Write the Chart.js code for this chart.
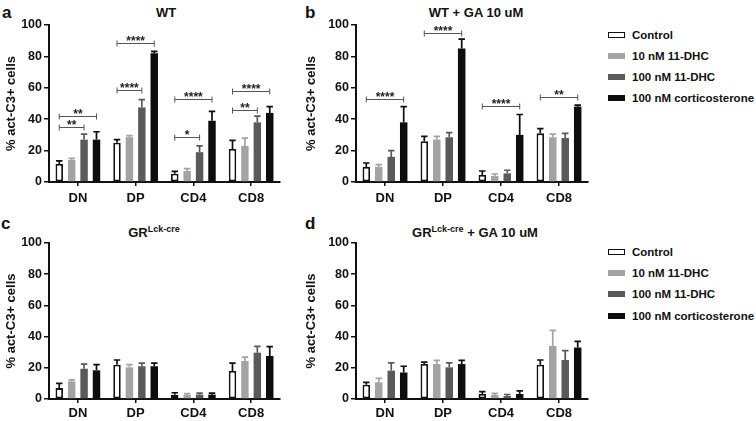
<!DOCTYPE html>
<html>
<head>
<meta charset="utf-8">
<script src="https://cdn.jsdelivr.net/npm/chart.js@4"></script>
<style>
  body { margin: 0; background: #fff; width: 756px; height: 421px; position: relative; overflow: hidden;
         font-family: "Liberation Sans", Arial, sans-serif; font-weight: bold; color: #111; }
  canvas { position: absolute; }
  .letter { position: absolute; font-size: 17px; line-height: 1; }
  .ttl { position: absolute; font-size: 13px; white-space: nowrap; transform: translate(-50%, -50%); }
  .ttl sup { font-size: 9px; vertical-align: 5px; line-height: 0; }
  .legend { position: absolute; left: 608px; top: 0; }
  .item { position: absolute; left: 0; display: flex; align-items: center; white-space: nowrap;
          font-size: 11.5px; transform: translateY(-50%); }
  .sw { width: 17px; height: 6px; margin-right: 7px; box-sizing: border-box; }
</style>
</head>
<body>
<div class="letter" style="left:2px;top:4px;">a</div>
<div class="letter" style="left:305px;top:4px;">b</div>
<div class="letter" style="left:1px;top:215px;">c</div>
<div class="letter" style="left:305px;top:215px;">d</div>

<div class="ttl" style="left:166px;top:12px;">WT</div>
<div class="ttl" style="left:476px;top:12px;">WT + GA 10 uM</div>
<div class="ttl" style="left:154px;top:232px;">GR<sup>Lck-cre</sup></div>
<div class="ttl" style="left:475px;top:232px;">GR<sup>Lck-cre</sup> + GA 10 uM</div>

<canvas id="chartA" width="300" height="210" style="left:0;top:0;"></canvas>
<canvas id="chartB" width="300" height="210" style="left:300px;top:0;"></canvas>
<canvas id="chartC" width="300" height="211" style="left:0;top:210px;"></canvas>
<canvas id="chartD" width="300" height="211" style="left:300px;top:210px;"></canvas>

<div class="legend" id="legendTop"></div>
<div class="legend" id="legendBottom"></div>

<script>
  const categories = ["DN", "DP", "CD4", "CD8"];
  const seriesNames = ["Control", "10 nM 11-DHC", "100 nM 11-DHC", "100 nM corticosterone"];
  const yTicks = [0, 20, 40, 60, 80, 100];

  // rows = series (Control, 10 nM, 100 nM, cort), cols = categories
  const wtMean = [[11.5, 25, 5.3, 21], [14, 28.5, 7, 23], [27, 47.5, 19, 38], [27, 82, 39, 44]];
  const wtErr = [[2, 2, 1.5, 5.5], [1, 1, 1.5, 5], [3.5, 5, 4, 4], [5, 1.2, 6, 4]];
  const wtSig = [
    { cat: 0, to: 2, y: 35, text: "**" }, { cat: 0, to: 3, y: 42, text: "**" },
    { cat: 1, to: 2, y: 58.5, text: "****" }, { cat: 1, to: 3, y: 88.5, text: "****" },
    { cat: 2, to: 2, y: 28.5, text: "*" }, { cat: 2, to: 3, y: 53, text: "****" },
    { cat: 3, to: 2, y: 46, text: "**" }, { cat: 3, to: 3, y: 58, text: "****" }
  ];

  const gaMean = [[9.6, 26, 4.5, 31], [9.6, 27, 3.8, 28.5], [16, 28.5, 5.5, 28], [38, 85, 30, 48]];
  const gaErr = [[2.5, 3, 2.5, 3], [1.5, 2, 1.3, 2], [4, 3, 2, 3], [10, 6, 13, 1]];
  const gaSig = [
    { cat: 0, to: 3, y: 53, text: "****" }, { cat: 1, to: 3, y: 95, text: "****" },
    { cat: 2, to: 3, y: 48.5, text: "****" }, { cat: 3, to: 3, y: 54, text: "**" }
  ];

  const grMean = [[7, 22, 2.8, 18], [11.3, 20.3, 2.6, 24.4], [19.4, 21, 2.8, 29.7], [18.4, 21, 2.8, 27.6]];
  const grErr = [[3, 3, 1.2, 5], [1, 1.7, 0.8, 2.5], [3, 2, 1, 4], [3.6, 2, 1, 6]];

  const grGaMean = [[9.2, 22.4, 3.2, 22], [10.7, 22.4, 2.6, 34], [18.2, 20.3, 1.9, 25], [17, 22.4, 3.2, 33]];
  const grGaErr = [[1.5, 1.2, 1.5, 3], [2.5, 2.4, 1, 10], [5, 2.8, 1, 6], [4, 2.4, 2, 4]];

  const fills = ["#ffffff", "#a3a3a3", "#5a5a5a", "#0d0d0d"];
  const errColors = ["#111111", "#a3a3a3", "#5a5a5a", "#0d0d0d"];

  Chart.defaults.font.family = '"Liberation Sans", Arial, sans-serif';
  Chart.defaults.font.weight = "bold";
  Chart.defaults.color = "#111";

  const errorBarPlugin = {
    id: "errorBars",
    afterDatasetsDraw: function (chart, args, opts) {
      const ctx = chart.ctx;
      const yScale = chart.scales.y;
      (opts.errors || []).forEach(function (row, i) {
        const meta = chart.getDatasetMeta(i);
        row.forEach(function (e, j) {
          const bar = meta.data[j];
          const v = chart.data.datasets[i].data[j];
          const top = yScale.getPixelForValue(v + e);
          const half = bar.width / 2 - 0.5;
          ctx.save();
          ctx.strokeStyle = errColors[i];
          ctx.lineWidth = 1.7;
          ctx.beginPath();
          ctx.moveTo(bar.x, bar.y);
          ctx.lineTo(bar.x, top);
          ctx.moveTo(bar.x - half, top);
          ctx.lineTo(bar.x + half, top);
          ctx.stroke();
          ctx.restore();
        });
      });
    }
  };

  const bracketPlugin = {
    id: "sigBrackets",
    afterDatasetsDraw: function (chart, args, opts) {
      const ctx = chart.ctx;
      const yScale = chart.scales.y;
      (opts.items || []).forEach(function (b) {
        const x0 = chart.getDatasetMeta(0).data[b.cat].x;
        const x1 = chart.getDatasetMeta(b.to).data[b.cat].x;
        const yy = Math.round(yScale.getPixelForValue(b.y)) + 0.5;
        ctx.save();
        ctx.strokeStyle = "#555";
        ctx.lineWidth = 1;
        ctx.beginPath();
        ctx.moveTo(x0, yy); ctx.lineTo(x1, yy);
        ctx.moveTo(x0, yy - 3); ctx.lineTo(x0, yy + 3);
        ctx.moveTo(x1, yy - 3); ctx.lineTo(x1, yy + 3);
        ctx.stroke();
        ctx.fillStyle = "#222";
        ctx.font = 'bold 12px "Liberation Sans", Arial, sans-serif';
        ctx.textAlign = "center";
        ctx.textBaseline = "alphabetic";
        ctx.fillText(b.text, (x0 + x1) / 2, yy + 1.5);
        ctx.restore();
      });
    }
  };

  Chart.register(errorBarPlugin, bracketPlugin);

  function makePanel(canvasId, means, errs, sig, lay) {
    const canvas = document.getElementById(canvasId);
    return new Chart(canvas, {
      type: "bar",
      data: {
        labels: categories,
        datasets: means.map(function (row, i) {
          return {
            label: seriesNames[i],
            data: row,
            backgroundColor: fills[i],
            borderColor: i === 0 ? "#111" : fills[i],
            borderWidth: i === 0 ? 1.8 : 0,
            borderSkipped: false,
            barPercentage: 0.6,
            categoryPercentage: 0.86
          };
        })
      },
      options: {
        responsive: false,
        animation: false,
        devicePixelRatio: 1,
        layout: { padding: { top: lay.top, right: lay.right, left: 0, bottom: 0 } },
        plugins: {
          legend: { display: false },
          tooltip: { enabled: false },
          errorBars: { errors: errs },
          sigBrackets: { items: sig }
        },
        scales: {
          x: {
            grid: { offset: false, drawOnChartArea: false, drawTicks: true, tickLength: 4, color: "#111", lineWidth: 1.5 },
            border: { display: true, color: "#111", width: 2 },
            ticks: { padding: lay.xPad, font: { size: 13, weight: "bold" }, color: "#111" },
            afterFit: function (s) { s.height = lay.xHeight; }
          },
          y: {
            min: 0,
            max: 100,
            afterBuildTicks: function (s) { s.ticks = yTicks.map(function (v) { return { value: v }; }); },
            grid: { drawOnChartArea: false, drawTicks: true, tickLength: 5, color: "#111", lineWidth: 1.5 },
            border: { display: true, color: "#111", width: 2 },
            ticks: { padding: 2, font: { size: 12.5, weight: "bold" }, color: "#111" },
            title: {
              display: true,
              text: "% act-C3+ cells",
              font: { size: 13, weight: "bold" },
              color: "#111",
              padding: { top: 4, bottom: 0 }
            },
            afterFit: function (s) { s.width = lay.yWidth; }
          }
        }
      }
    });
  }

  makePanel("chartA", wtMean, wtErr, wtSig, { top: 25, right: 20, xHeight: 28, xPad: 5, yWidth: 49 });
  makePanel("chartB", gaMean, gaErr, gaSig, { top: 25, right: 12, xHeight: 28, xPad: 5, yWidth: 56 });
  makePanel("chartC", grMean, grErr, [], { top: 33, right: 20, xHeight: 22, xPad: 3, yWidth: 49 });
  makePanel("chartD", grGaMean, grGaErr, [], { top: 33, right: 12, xHeight: 22, xPad: 3, yWidth: 56 });

  function renderLegend(containerId, rowsY) {
    const el = document.getElementById(containerId);
    el.innerHTML = seriesNames.map(function (name, i) {
      const border = i === 0 ? "border:1.5px solid #111;" : "";
      return (
        '<div class="item" style="top:' + rowsY[i] + 'px;">' +
          '<span class="sw" style="background:' + fills[i] + ';' + border + '"></span>' +
          "<span>" + name + "</span>" +
        "</div>"
      );
    }).join("");
  }

  renderLegend("legendTop", [35, 56, 77, 98]);
  renderLegend("legendBottom", [252, 273, 294, 316]);
</script>
</body>
</html>
